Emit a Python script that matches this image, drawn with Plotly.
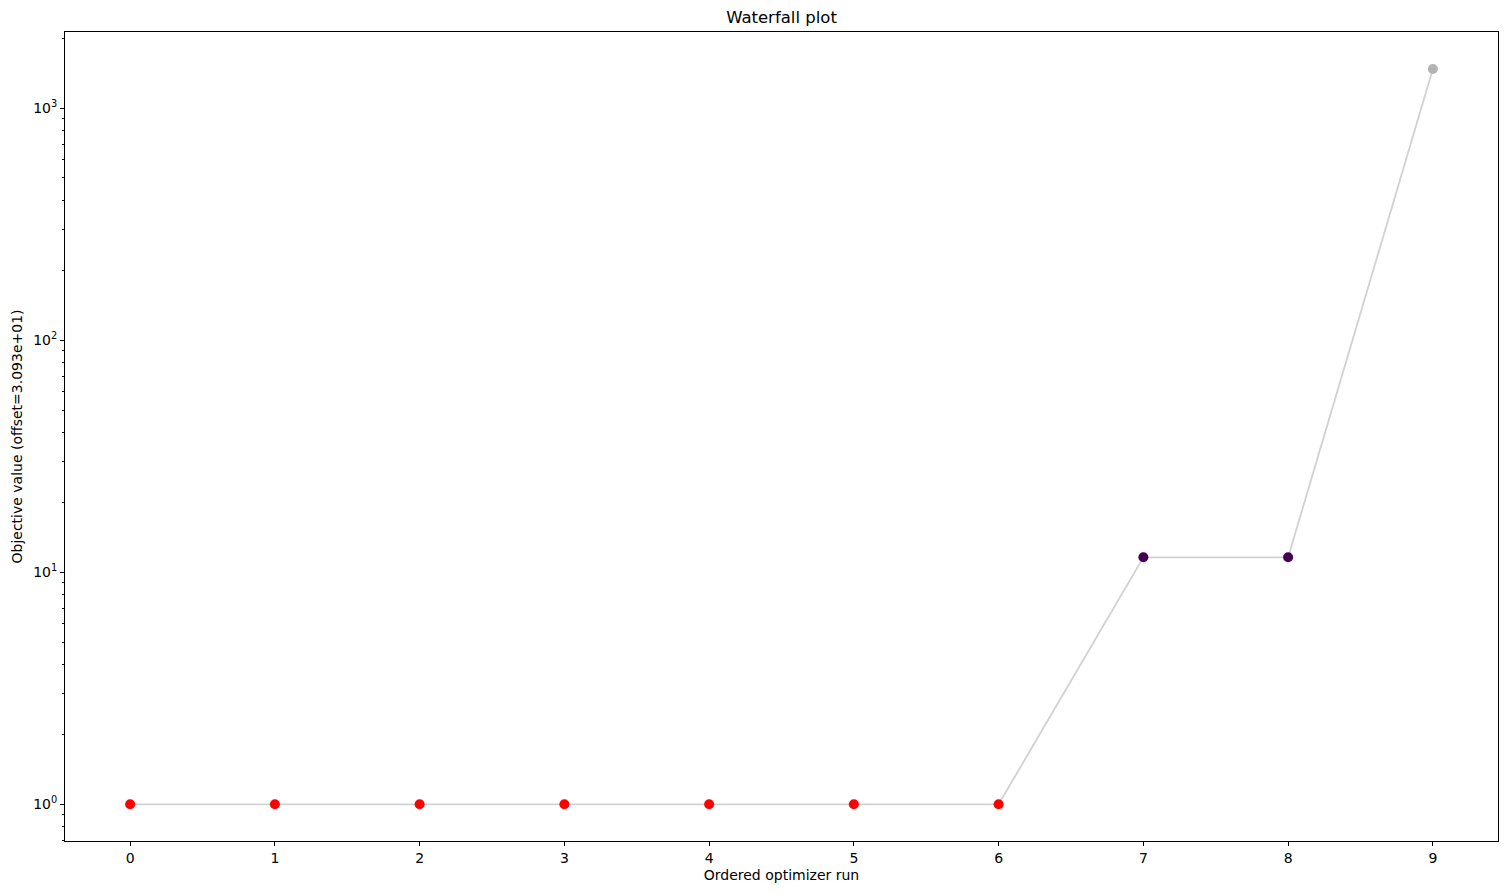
import plotly.graph_objects as go

# ordered optimizer runs and objective values (offset = 3.093e+01)
runs = [0, 1, 2, 3, 4, 5, 6, 7, 8, 9]
objective = [1.0, 1.0, 1.0, 1.0, 1.0, 1.0, 1.0, 11.6, 11.6, 1473.0]
point_colors = ["#ff0000"] * 7 + ["#440154", "#440154", "#b3b3b3"]

y_tickvals = [1, 10, 100, 1000]
y_ticktext = ["10<sup>0</sup>", "10<sup>1</sup>", "10<sup>2</sup>", "10<sup>3</sup>"]
minor_vals = [k * 10 ** d for d in range(-1, 4) for k in range(2, 10)]

fig = go.Figure()

fig.add_trace(go.Scatter(
    x=runs,
    y=objective,
    mode="lines",
    line=dict(color="#d1d1d1", width=1.8),
    hoverinfo="skip",
    showlegend=False,
))
fig.add_trace(go.Scatter(
    x=runs,
    y=objective,
    mode="markers",
    marker=dict(color=point_colors, size=10, line=dict(width=0)),
    showlegend=False,
))

axis_font = dict(family="DejaVu Sans", size=14, color="black")

# page body has an 8px margin, so the figure is sized/offset to suit
fig.update_layout(
    width=1492,
    height=878,
    paper_bgcolor="white",
    plot_bgcolor="white",
    margin=dict(l=57, r=2, t=24, b=45),
    title=dict(text="Waterfall plot", xref="paper", x=0.5, xanchor="center", y=0.99, yanchor="middle",
               font=dict(family="DejaVu Sans", size=16.5, color="black")),
    font=axis_font,
    xaxis=dict(
        range=[-0.45, 9.45],
        tickmode="array",
        tickvals=runs,
        ticks="outside",
        ticklen=4,
        tickcolor="black",
        showline=True,
        linecolor="black",
        linewidth=1,
        mirror=True,
        showgrid=False,
        zeroline=False,
        title=dict(text="Ordered optimizer run", font=axis_font, standoff=5),
        tickfont=axis_font,
    ),
    yaxis=dict(
        type="log",
        range=[-0.158, 3.328],
        tickmode="array",
        tickvals=y_tickvals,
        ticktext=y_ticktext,
        ticks="outside",
        ticklen=4,
        tickcolor="black",
        minor=dict(tickmode="array", tickvals=minor_vals, ticks="outside", ticklen=2,
                   tickcolor="black", showgrid=False),
        showline=True,
        linecolor="black",
        linewidth=1,
        mirror=True,
        showgrid=False,
        zeroline=False,
        title=dict(text="Objective value (offset=3.093e+01)", font=axis_font, standoff=7),
        tickfont=axis_font,
    ),
)

fig.write_html("out.html")
